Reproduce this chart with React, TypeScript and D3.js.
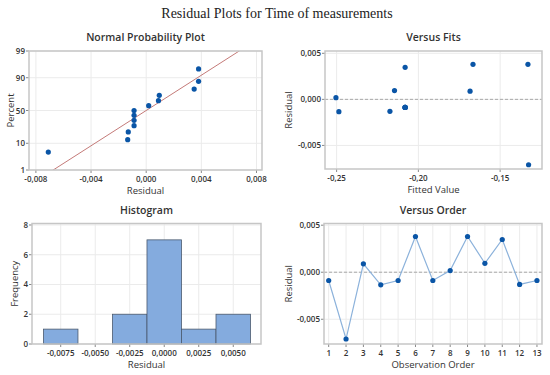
import { useEffect, useRef } from "react";
import * as d3 from "d3";

// residuals in observation order (read from Versus Order)
const residuals = [
  -0.00088, -0.0071, 0.00089, -0.00134, -0.00088, 0.0038, -0.00088, 0.00018,
  0.0038, 0.00095, 0.00348, -0.0013, -0.00088,
];
// fitted values per observation (read from Versus Fits)
const fitted = [
  -0.2081, -0.1326, -0.1684, -0.2486, -0.2081, -0.1666, -0.2081, -0.2504,
  -0.133, -0.2146, -0.2081, -0.2174, -0.2081,
];
// percent for sorted residuals on the normal probability plot
const nppPercent = [
  5.2, 12.7, 20.1, 27.6, 35.1, 42.5, 50, 57.5, 64.9, 72.4, 79.9, 87.3, 94.8,
];
const fitMean = 0;
const fitSd = 0.0029;

const binStarts = [-0.00875, -0.00625, -0.00375, -0.00125, 0.00125, 0.00375];
const binWidth = 0.0025;
const binCounts = [1, 0, 2, 7, 1, 2];

const nppXTicks = [-0.008, -0.004, 0, 0.004, 0.008];
const nppYTicks = [1, 10, 50, 90, 99];
const fitsXTicks = [-0.25, -0.2, -0.15];
const resTicks = [-0.005, 0, 0.005];
const histXTicks = [-0.0075, -0.005, -0.0025, 0, 0.0025, 0.005];
const histYTicks = [0, 2, 4, 6, 8];
const orderTicks = d3.range(1, 14);

const FONT = "'Open Sans', 'Noto Sans', sans-serif";
const TEXT = "#333";
const GRID = "#ebebeb";
const FRAME = "#c6c6c6";
const DOT = "#0a55a6";

const comma = (digits: number) => (v: number) =>
  d3.format(`.${digits}f`)(v).replace("−", "-").replace(".", ",");

// inverse standard normal CDF (Acklam approximation)
function probit(p: number) {
  const a = [-39.6968302866538, 220.946098424521, -275.928510446969, 138.357751867269, -30.6647980661472, 2.50662827745924];
  const b = [-54.4760987982241, 161.585836858041, -155.698979859887, 66.8013118877197, -13.2806815528857];
  const c = [-0.00778489400243029, -0.322396458041136, -2.40075827716184, -2.54973253934373, 4.37466414146497, 2.93816398269878];
  const d = [0.00778469570904146, 0.32246712907004, 2.445134137143, 3.75440866190742];
  const pl = 0.02425;
  if (p < pl) {
    const q = Math.sqrt(-2 * Math.log(p));
    return (((((c[0] * q + c[1]) * q + c[2]) * q + c[3]) * q + c[4]) * q + c[5]) /
      ((((d[0] * q + d[1]) * q + d[2]) * q + d[3]) * q + 1);
  }
  if (p > 1 - pl) {
    const q = Math.sqrt(-2 * Math.log(1 - p));
    return -(((((c[0] * q + c[1]) * q + c[2]) * q + c[3]) * q + c[4]) * q + c[5]) /
      ((((d[0] * q + d[1]) * q + d[2]) * q + d[3]) * q + 1);
  }
  const q = p - 0.5;
  const r = q * q;
  return (((((a[0] * r + a[1]) * r + a[2]) * r + a[3]) * r + a[4]) * r + a[5]) * q /
    (((((b[0] * r + b[1]) * r + b[2]) * r + b[3]) * r + b[4]) * r + 1);
}

type Sel = d3.Selection<SVGGElement, unknown, null, undefined>;

interface PanelOpts {
  x0: number;
  x1: number;
  y0: number;
  y1: number;
  title: string;
  xLabel: string;
  yLabel: string;
  yLabelX: number;
  xTicks: number[];
  yTicks: number[];
  xPos: (v: number) => number;
  yPos: (v: number) => number;
  xFmt: (v: number) => string;
  yFmt: (v: number) => string;
}

function panel(root: Sel, o: PanelOpts) {
  const g = root.append("g");
  g.append("rect")
    .attr("x", o.x0)
    .attr("y", o.y0)
    .attr("width", o.x1 - o.x0)
    .attr("height", o.y1 - o.y0)
    .attr("fill", "#fff");

  o.xTicks.forEach((t) => {
    g.append("line")
      .attr("x1", o.xPos(t)).attr("x2", o.xPos(t))
      .attr("y1", o.y0).attr("y2", o.y1)
      .attr("stroke", GRID).attr("stroke-width", 1);
  });
  o.yTicks.forEach((t) => {
    g.append("line")
      .attr("x1", o.x0).attr("x2", o.x1)
      .attr("y1", o.yPos(t)).attr("y2", o.yPos(t))
      .attr("stroke", GRID).attr("stroke-width", 1);
  });

  // ticks + labels
  o.xTicks.forEach((t) => {
    g.append("line")
      .attr("x1", o.xPos(t)).attr("x2", o.xPos(t))
      .attr("y1", o.y1).attr("y2", o.y1 + 3)
      .attr("stroke", "#888");
    g.append("text")
      .attr("x", o.xPos(t))
      .attr("y", o.y1 + 11.5)
      .attr("text-anchor", "middle")
      .attr("font-size", 8)
      .attr("font-weight", 600)
      .attr("fill", TEXT)
      .text(o.xFmt(t));
  });
  o.yTicks.forEach((t) => {
    g.append("line")
      .attr("x1", o.x0 - 3).attr("x2", o.x0)
      .attr("y1", o.yPos(t)).attr("y2", o.yPos(t))
      .attr("stroke", "#888");
    g.append("text")
      .attr("x", o.x0 - 4)
      .attr("y", o.yPos(t) + 3)
      .attr("text-anchor", "end")
      .attr("font-size", 8)
      .attr("font-weight", 600)
      .attr("fill", TEXT)
      .text(o.yFmt(t));
  });

  const cx = (o.x0 + o.x1) / 2;
  const cy = (o.y0 + o.y1) / 2;
  g.append("text")
    .attr("x", cx)
    .attr("y", o.y0 - 10)
    .attr("text-anchor", "middle")
    .attr("font-size", 10.5)
    .attr("font-weight", 600)
    .attr("fill", TEXT)
    .text(o.title);
  g.append("text")
    .attr("x", cx)
    .attr("y", o.y1 + 23.5)
    .attr("text-anchor", "middle")
    .attr("font-size", 9.5)
    .attr("fill", TEXT)
    .text(o.xLabel);
  g.append("text")
    .attr("transform", `translate(${o.yLabelX},${cy}) rotate(-90)`)
    .attr("text-anchor", "middle")
    .attr("font-size", 9.5)
    .attr("fill", TEXT)
    .text(o.yLabel);

  return g;
}

function frame(g: Sel, x0: number, x1: number, y0: number, y1: number) {
  g.append("rect")
    .attr("x", x0)
    .attr("y", y0)
    .attr("width", x1 - x0)
    .attr("height", y1 - y0)
    .attr("fill", "none")
    .attr("stroke", FRAME)
    .attr("stroke-width", 1.5);
}

export default function App() {
  const ref = useRef<SVGSVGElement>(null);

  useEffect(() => {
    if (!ref.current) return;
    const svg = d3.select(ref.current);
    svg.selectAll("*").remove();
    const root = svg.append("g").attr("font-family", FONT) as unknown as Sel;

    svg.append("text")
      .attr("x", 277)
      .attr("y", 18)
      .attr("text-anchor", "middle")
      .attr("font-family", "'Liberation Serif', 'Times New Roman', serif")
      .attr("font-size", 14)
      .attr("fill", "#222")
      .text("Residual Plots for Time of measurements");

    // ---------- Normal probability plot ----------
    {
      const x0 = 29, x1 = 262, y0 = 51, y1 = 170;
      const x = d3.scaleLinear().domain([-0.0085, 0.0084]).range([x0, x1]);
      const z = d3.scaleLinear().domain([probit(0.01), probit(0.99)]).range([y1, y0]);
      const yPos = (p: number) => z(probit(p / 100));
      const g = panel(root, {
        x0, x1, y0, y1,
        title: "Normal Probability Plot",
        xLabel: "Residual",
        yLabel: "Percent",
        yLabelX: 14,
        xTicks: nppXTicks,
        yTicks: nppYTicks,
        xPos: x,
        yPos,
        xFmt: comma(3),
        yFmt: (v) => String(v),
      });
      const clipId = "npp-clip";
      g.append("clipPath").attr("id", clipId)
        .append("rect").attr("x", x0).attr("y", y0)
        .attr("width", x1 - x0).attr("height", y1 - y0);
      const zLo = probit(0.005), zHi = probit(0.995);
      g.append("line")
        .attr("clip-path", `url(#${clipId})`)
        .attr("x1", x(fitMean + zLo * fitSd)).attr("y1", z(zLo))
        .attr("x2", x(fitMean + zHi * fitSd)).attr("y2", z(zHi))
        .attr("stroke", "#c47a78")
        .attr("stroke-width", 1);
      const sorted = d3.sort(residuals);
      sorted.forEach((r, i) => {
        g.append("circle")
          .attr("cx", x(r))
          .attr("cy", yPos(nppPercent[i]))
          .attr("r", 2.6)
          .attr("fill", DOT);
      });
      frame(g, x0, x1, y0, y1);
    }

    // ---------- Versus fits ----------
    {
      const x0 = 325, x1 = 542, y0 = 51, y1 = 169;
      const x = d3.scaleLinear().domain([-0.2571, -0.1244]).range([x0, x1]);
      const y = d3.scaleLinear().domain([-0.00756, 0.00525]).range([y1, y0]);
      const g = panel(root, {
        x0, x1, y0, y1,
        title: "Versus Fits",
        xLabel: "Fitted Value",
        yLabel: "Residual",
        yLabelX: 292,
        xTicks: fitsXTicks,
        yTicks: resTicks,
        xPos: x,
        yPos: y,
        xFmt: comma(2),
        yFmt: comma(3),
      });
      g.append("line")
        .attr("x1", x0).attr("x2", x1)
        .attr("y1", y(0)).attr("y2", y(0))
        .attr("stroke", "#aaa")
        .attr("stroke-dasharray", "3,2");
      residuals.forEach((r, i) => {
        g.append("circle")
          .attr("cx", x(fitted[i]))
          .attr("cy", y(r))
          .attr("r", 2.6)
          .attr("fill", DOT);
      });
      frame(g, x0, x1, y0, y1);
    }

    // ---------- Histogram ----------
    {
      const x0 = 32, x1 = 261, y0 = 223.5, y1 = 344;
      const x = d3.scaleLinear().domain([-0.00958, 0.00701]).range([x0, x1]);
      const y = d3.scaleLinear().domain([0, 8.1]).range([y1, y0]);
      const g = panel(root, {
        x0, x1, y0, y1,
        title: "Histogram",
        xLabel: "Residual",
        yLabel: "Frequency",
        yLabelX: 18,
        xTicks: histXTicks,
        yTicks: histYTicks,
        xPos: x,
        yPos: y,
        xFmt: comma(4),
        yFmt: (v) => String(v),
      });
      binStarts.forEach((b, i) => {
        if (!binCounts[i]) return;
        g.append("rect")
          .attr("x", x(b))
          .attr("y", y(binCounts[i]))
          .attr("width", x(b + binWidth) - x(b))
          .attr("height", y(0) - y(binCounts[i]))
          .attr("fill", "#84abde")
          .attr("stroke", "#4b5a6e")
          .attr("stroke-width", 0.8);
      });
      frame(g, x0, x1, y0, y1);
    }

    // ---------- Versus order ----------
    {
      const x0 = 324, x1 = 542, y0 = 223.5, y1 = 344;
      const x = d3.scaleLinear().domain([0.73, 13.29]).range([x0, x1]);
      const y = d3.scaleLinear().domain([-0.00763, 0.00518]).range([y1, y0]);
      const g = panel(root, {
        x0, x1, y0, y1,
        title: "Versus Order",
        xLabel: "Observation Order",
        yLabel: "Residual",
        yLabelX: 292,
        xTicks: orderTicks,
        yTicks: resTicks,
        xPos: x,
        yPos: y,
        xFmt: (v) => String(v),
        yFmt: comma(3),
      });
      g.append("line")
        .attr("x1", x0).attr("x2", x1)
        .attr("y1", y(0)).attr("y2", y(0))
        .attr("stroke", "#aaa")
        .attr("stroke-dasharray", "3,2");
      const line = d3.line<number>()
        .x((_, i) => x(i + 1))
        .y((r) => y(r));
      g.append("path")
        .attr("d", line(residuals) ?? "")
        .attr("fill", "none")
        .attr("stroke", "#8cb2db")
        .attr("stroke-width", 1.2);
      residuals.forEach((r, i) => {
        g.append("circle")
          .attr("cx", x(i + 1))
          .attr("cy", y(r))
          .attr("r", 2.6)
          .attr("fill", DOT);
      });
      frame(g, x0, x1, y0, y1);
    }
  }, []);

  return (
    <svg
      ref={ref}
      width={550}
      height={375}
      style={{ position: "absolute", left: 0, top: 0, background: "#fff" }}
    />
  );
}
